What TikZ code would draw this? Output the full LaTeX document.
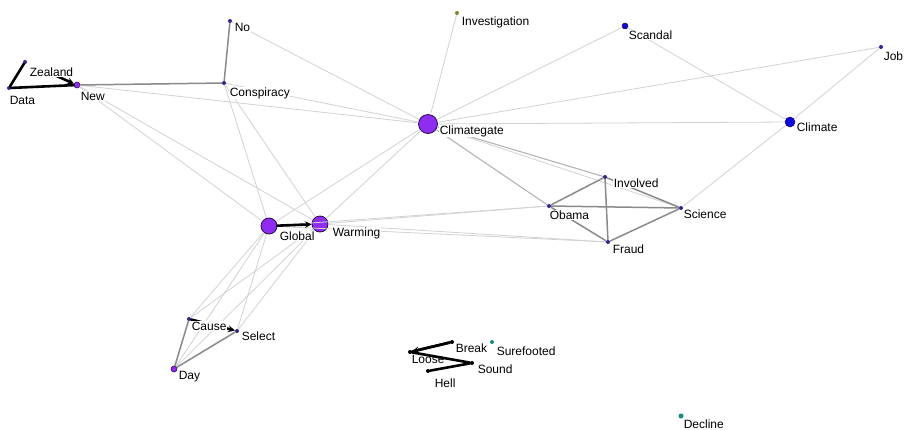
\documentclass[tikz,border=0pt]{standalone}
\usepackage{fontspec}
\setmainfont{Liberation Sans}
\usetikzlibrary{arrows.meta}
\definecolor{hub}{HTML}{8E2DF0}
\definecolor{hubline}{HTML}{2A0A50}
\definecolor{smalldot}{HTML}{3B1F8F}
\definecolor{bluedot}{HTML}{0A0AE0}
\definecolor{olivedot}{HTML}{7A8A2A}
\definecolor{tealdot}{HTML}{1A8A7A}
\definecolor{ltgray}{HTML}{D2D2D2}
\definecolor{mdgray}{HTML}{B4B4B4}
\definecolor{dkgray}{HTML}{8A8A8A}
\tikzset{
  dotS/.style={circle,fill=smalldot,draw=none,inner sep=0pt,minimum size=4pt},
  dotP/.style={circle,fill=hub,draw=hubline,line width=0.6pt,inner sep=0pt,minimum size=6pt},
  dotB/.style={circle,fill=hub,draw=hubline,line width=0.8pt,inner sep=0pt,minimum size=16pt},
  dotBlue/.style={circle,fill=bluedot,draw=hubline,line width=0.5pt,inner sep=0pt,minimum size=#1},
  lbl/.style={anchor=west,fill=white,inner sep=0.6pt,font=\fontsize{12}{14}\selectfont},
  ltedge/.style={draw=ltgray,line width=0.8pt},
  mdedge/.style={draw=mdgray,line width=1.1pt},
  dkedge/.style={draw=dkgray,line width=1.5pt},
  heavy/.style={draw=black,line width=2.6pt,line cap=round},
  heavytip/.style={heavy,-{Stealth[length=7pt,width=7pt,inset=3pt]}},
}
\begin{document}
\begin{tikzpicture}[x=1pt,y=-1pt]
\useasboundingbox[fill=white] (0,0) rectangle (904,429);

% ---- vertices ----
\node[dotS] (zealand) at (25,62) {};
\node[dotS] (data) at (9,88) {};
\node[dotP,minimum size=6pt] (new) at (77,85) {};
\node[dotS] (no) at (230,21) {};
\node[dotS] (conspiracy) at (224,83) {};
\node[circle,fill=olivedot,inner sep=0pt,minimum size=4pt] (investigation) at (457,13) {};
\node[dotBlue=6pt] (scandal) at (625,26) {};
\node[dotS] (job) at (881,47) {};
\node[dotB,minimum size=19pt] (climategate) at (428,124) {};
\node[dotBlue=10pt] (climate) at (790,122) {};
\node[dotS] (involved) at (605,177) {};
\node[dotS] (obama) at (549,206) {};
\node[dotS] (science) at (681,208) {};
\node[dotS] (fraud) at (608,242) {};
\node[dotB] (global) at (269,226) {};
\node[dotB] (warming) at (320,224) {};
\node[dotS] (cause) at (189,319) {};
\node[dotS] (select) at (237,331) {};
\node[dotP] (day) at (174,369) {};
\node[dotS,fill=black] (loose) at (410,352) {};
\node[dotS,fill=black] (break) at (452,342) {};
\node[circle,fill=tealdot,inner sep=0pt,minimum size=4pt] (surefooted) at (492,342) {};
\node[dotS,fill=black] (sound) at (472,363) {};
\node[dotS,fill=black] (hell) at (428,371) {};
\node[circle,fill=tealdot,inner sep=0pt,minimum size=5pt] (decline) at (681,416) {};

% ---- weak ties ----
\foreach \a/\b in {no/climategate,investigation/climategate,scandal/climategate,
  job/climategate,new/climategate,conspiracy/climategate,climategate/climate,
  scandal/climate,job/climate,climate/science,climategate/global,climategate/warming,
  new/global,new/warming,conspiracy/global,conspiracy/warming,global/obama,
  warming/obama,global/fraud,warming/fraud,climategate/science,
  global/cause,global/select,global/day,warming/cause,warming/select,warming/day}
  \draw[ltedge] (\a) -- (\b);
% ---- medium ties ----
\foreach \a/\b in {climategate/obama,climategate/involved}
  \draw[mdedge] (\a) -- (\b);
% ---- strong ties ----
\foreach \a/\b in {new/conspiracy,conspiracy/no,obama/involved,involved/fraud,
  obama/science,obama/fraud,science/fraud,involved/science,cause/day,day/select}
  \draw[dkedge] (\a) -- (\b);
% ---- heaviest ties ----
\foreach \a/\b in {data/zealand,data/new,loose/break,loose/sound,sound/hell}
  \draw[heavy] (\a) -- (\b);
\foreach \a/\b in {global/warming,cause/select,break/loose}
  \draw[heavytip] (\a) -- (\b);
\draw[heavytip,shorten <=30pt] (zealand) -- (new);

% ---- labels ----
\node[lbl] (zealand-l) at (29,72) {Zealand};
\node[lbl] (data-l) at (9,100) {Data};
\node[lbl] (new-l) at (80,96) {New};
\node[lbl] (no-l) at (234,27) {No};
\node[lbl] (conspiracy-l) at (229,93) {Conspiracy};
\node[lbl] (investigation-l) at (461,22) {Investigation};
\node[lbl] (scandal-l) at (628,35) {Scandal};
\node[lbl] (job-l) at (883,56) {Job};
\node[lbl] (climategate-l) at (439,131) {Climategate};
\node[lbl] (climate-l) at (796,127) {Climate};
\node[lbl] (involved-l) at (613,183) {Involved};
\node[lbl] (obama-l) at (549,215) {Obama};
\node[lbl] (science-l) at (683,214) {Science};
\node[lbl] (fraud-l) at (612,249) {Fraud};
\node[lbl] (global-l) at (279,236) {Global};
\node[lbl] (warming-l) at (332,233) {Warming};
\node[lbl] (cause-l) at (191,326) {Cause};
\node[lbl] (select-l) at (241,336) {Select};
\node[lbl] (day-l) at (178,377) {Day};
\node[lbl,fill=none] (break-l) at (455,348) {Break};
\node[lbl] (surefooted-l) at (496,351) {Surefooted};
\node[lbl,fill=none] (loose-l) at (411,359) {Loose};
\node[lbl] (sound-l) at (477,369) {Sound};
\node[lbl] (hell-l) at (434,383) {Hell};
\node[lbl] (decline-l) at (683,424) {Decline};
\end{tikzpicture}
\end{document}
